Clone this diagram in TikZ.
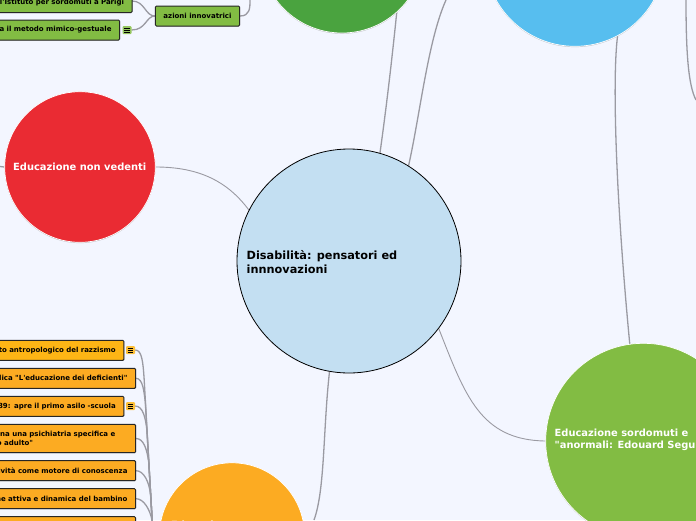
\documentclass[tikz,border=0pt]{standalone}
\usepackage{fontspec}
\usetikzlibrary{shadows}
\setmainfont[Ligatures=TeXOff]{DejaVu Sans}
\definecolor{bgc}{HTML}{F3F6FF}
\definecolor{linec}{HTML}{9A9AA2}
\definecolor{leafg}{HTML}{82BC43}
\definecolor{leafo}{HTML}{FCAB22}
\definecolor{leafy}{HTML}{FDB515}
\definecolor{dgreen}{HTML}{4AA33F}
\definecolor{sky}{HTML}{57BEEF}
\definecolor{redc}{HTML}{EA2B33}
\definecolor{centerc}{HTML}{C3DFF2}
\pgfdeclarelayer{back}
\pgfdeclarelayer{conn}
\pgfsetlayers{back,conn,main}
\tikzset{x=1pt,y=-1pt,
  link/.style={draw=linec,line width=1.3pt},
  thin link/.style={draw=linec,line width=0.9pt},
  bub/.style={circle,draw=white,line width=0.7pt,inner sep=0pt,
     drop shadow={shadow xshift=0pt,shadow yshift=-0.8pt,opacity=.45,fill=gray}},
  btxt/.style={font=\bfseries\fontsize{9.9}{12}\selectfont,text=white,anchor=west,align=left,inner sep=0pt},
  leaf/.style={rounded corners=1pt,draw=black!85,line width=1pt,minimum height=20pt,anchor=east,
     text=black,font=\bfseries\fontsize{7}{9}\selectfont,inner xsep=8pt,inner ysep=0pt,
     drop shadow={shadow xshift=0.6pt,shadow yshift=-0.6pt,opacity=.4,fill=gray}},
  longtxt/.style={text width=210pt,align=right},
  memo/.style={minimum width=9pt,minimum height=8pt,inner sep=0pt,fill=#1,rounded corners=1pt,
     path picture={\foreach \d in {-2,0,2}{\draw[black,line width=0.6pt]
       ([xshift=-2.6pt,yshift=\d pt]path picture bounding box.center) -- ([xshift=2.6pt,yshift=\d pt]path picture bounding box.center);}}},
}
\begin{document}
\begin{tikzpicture}
\useasboundingbox (0,0) rectangle (696,520);
\begin{pgfonlayer}{back}
\fill[bgc] (0,0) rectangle (696,520);
\end{pgfonlayer}

% hubs and bubbles
\node[circle,draw=black,fill=centerc,line width=0.8pt,minimum size=224pt,inner sep=0pt] (center) at (349,261) {};
\node[bub,fill=dgreen,minimum size=164pt] (green) at (342,-49) {};
\node[bub,fill=sky,minimum size=180.6pt] (blue) at (575,-44) {};
\node[bub,fill=redc,minimum size=150.6pt] (red) at (80,167) {};
\node[bub,fill=leafg,minimum size=195.4pt] (sord) at (643.4,441) {};
\node[bub,fill=leafo,minimum size=145pt] (edu) at (232,535.3) {};

\node[btxt] (tred) at (13,167) {Educazione non vedenti};
\node[btxt] (tsord) at (554.5,440) {Educazione sordomuti e\\"anormali: Edouard Segui};
\node[btxt] (tedu) at (171,524.5) {Educazione};
\node[font=\bfseries\fontsize{11.3}{14}\selectfont,text=black,anchor=west,align=left,inner sep=0pt] (tcenter) at (246.5,262) {Disabilità: pensatori ed\\innnovazioni};

% free ends
\coordinate (eA) at (398,0);
\coordinate (eB) at (446,0);
\coordinate (eO) at (314,520);
\coordinate (eR) at (0,166.5);
\coordinate (eT) at (686,0);
\coordinate (eS) at (696,100);
\coordinate (eAz) at (250,0);
\coordinate (eTop) at (132,1);
\coordinate (hub) at (152.5,526);

% green leaves
\node[leaf,fill=leafg,longtxt] (g1) at (132.5,2.5) {l'Istituto per sordomuti a Parigi};
\node[leaf,fill=leafg,longtxt] (g2) at (120,30) {a il metodo mimico-gestuale};
\node[leaf,fill=leafg,minimum width=84pt] (az) at (240,16) {azioni innovatrici};
\node[memo=leafg!85!white] (mg) at (127,30) {};

% orange leaves
\node[leaf,fill=leafy,longtxt] (o1) at (124.3,350.3) {to antropologico del razzismo};
\node[leaf,fill=leafo,longtxt] (o2) at (136,378.3) {lica "L'educazione dei deficienti"};
\node[leaf,fill=leafo,longtxt] (o3) at (124.3,406.3) {89: apre il primo asilo -scuola};
\node[leaf,fill=leafo,minimum width=150pt,minimum height=28.4pt] (o4) at (136,438.5) {};
\node[font=\bfseries\fontsize{7}{9}\selectfont,text=black,anchor=west,align=left,inner sep=0pt] (t4) at (0,438.7) {na una psichiatria specifica e\\\hspace*{4pt}\llap{o }adulto"};
\node[leaf,fill=leafo,longtxt] (o5) at (136,470.7) {vività come motore di conoscenza};
\node[leaf,fill=leafo,longtxt] (o6) at (136,498.7) {ne attiva e dinamica del bambino};
\node[leaf,fill=leafo,longtxt] (o7) at (136,526.7) {};
\node[memo=leafy!85!white] (m1) at (130.5,350) {};
\node[memo=leafy!85!white] (m3) at (130.5,406) {};

\begin{pgfonlayer}{conn}
\draw[thin link] (red.east) .. controls (200,167) and (228,182) .. (center.153);
\draw[link] (eR) -- (red.west);
\draw[link] (center.74) .. controls (386,110) and (392,60) .. (eA);
\draw[link] (center.58.4) .. controls (420,115) and (428,40) .. (eB);
\draw[link] (center.-100) .. controls (323,430) and (325,490) .. (eO);
\draw[thin link] (center.-37) .. controls (465,395) and (480,440) .. (sord.west);
\draw[link] (blue.-62) .. controls (612,80) and (616,200) .. (sord.98.5);
\draw[link] (eT) .. controls (686,50) and (688,85) .. (eS);
\draw[link] (eTop) .. controls (145,1) and (145,16) .. (az.west);
\draw[link] (mg.east) .. controls (146,30) and (146,16) .. (az.west);
\draw[link] (az.east) .. controls (250,16) and (250,8) .. (eAz);
\draw[link] (m1.east) .. controls (142,350) and (143,362) .. (144.2,380) -- (hub);
\draw[link] (o2.east) .. controls (143,378.3) and (144,392) .. (145.3,402) -- (hub);
\draw[link] (m3.east) .. controls (143,406) and (145.5,418) .. (146.9,430) -- (hub);
\draw[link] (o4.east) .. controls (144,438.5) and (147,450) .. (148.7,462) -- (hub);
\draw[link] (o5.east) .. controls (144,470.7) and (149,482) .. (150.5,494) -- (hub);
\draw[link] (o6.east) .. controls (144,498.7) and (150,510) .. (152,520) -- (hub);
\end{pgfonlayer}
\end{tikzpicture}
\end{document}
